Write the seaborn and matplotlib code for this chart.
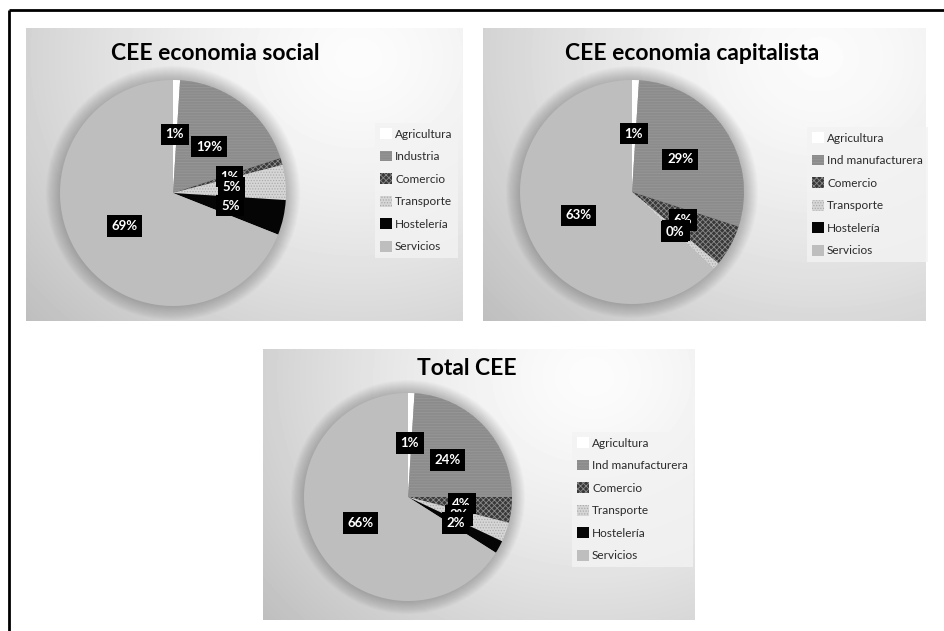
import numpy as np
import matplotlib
matplotlib.use("Agg")
import matplotlib.pyplot as plt
from matplotlib.patches import Patch, Circle
import seaborn as sns

# Sector shares (%) of special employment centres
sectors_social = ["Agricultura", "Industria", "Comercio", "Transporte", "Hostelería", "Servicios"]
sectors_other = ["Agricultura", "Ind manufacturera", "Comercio", "Transporte", "Hostelería", "Servicios"]
social_values = [1, 19, 1, 5, 5, 69]
capitalista_values = [1, 29, 6, 1, 0, 63]
total_values = [1, 24, 4, 3, 2, 66]
titles = ["CEE economia social", "CEE economia capitalista", "Total CEE"]

sns.set_theme(style="white")
plt.rcParams["font.family"] = ["Lato", "DejaVu Sans"]
plt.rcParams["hatch.linewidth"] = 0.6

W, H = 944, 631
fig = plt.figure(figsize=(W / 100, H / 100), dpi=100)
fig.patch.set_facecolor("white")


def frac(x0, y0, x1, y1):
    return [x0 / W, 1 - y1 / H, (x1 - x0) / W, (y1 - y0) / H]


# outer frame (left and top rules)
frame_ax = fig.add_axes([0, 0, 1, 1])
frame_ax.set_xlim(0, W)
frame_ax.set_ylim(H, 0)
frame_ax.axis("off")
frame_ax.plot([8.5, 8.5], [9.5, H], color="black", lw=2, solid_capstyle="butt")
frame_ax.plot([8.5, W], [9.5, 9.5], color="black", lw=2, solid_capstyle="butt")

# grey fills and textures per sector
styles = [
    dict(fc="#ffffff", hatch=None, hc="#ffffff"),
    dict(fc="#8c8c8c", hatch="------", hc="#979797"),
    dict(fc="#383838", hatch="xxxxxx", hc="#8a8a8a"),
    dict(fc="#d6d6d6", hatch="......", hc="#ababab"),
    dict(fc="#050505", hatch=None, hc="#050505"),
    dict(fc="#bebebe", hatch=None, hc="#bebebe"),
]

panels = [
    dict(rect=(26, 28, 463, 321), center=(173, 193), r=113, title=(215, 53),
         legend=(375, 123), values=social_values, labels=sectors_social),
    dict(rect=(483, 28, 926, 321), center=(632, 192), r=112, title=(692, 53),
         legend=(807, 127), values=capitalista_values, labels=sectors_other),
    dict(rect=(263, 349, 695, 620), center=(408, 497), r=104, title=(467, 368),
         legend=(572, 432), values=total_values, labels=sectors_other),
]

for title, p in zip(titles, panels):
    x0, y0, x1, y1 = p["rect"]
    pw, ph = x1 - x0, y1 - y0
    bg = fig.add_axes(frac(x0, y0, x1, y1))
    yy, xx = np.mgrid[0:ph, 0:pw]
    cx, cy = 0.76 * pw, 0.10 * ph
    d = np.hypot(xx - cx, (yy - cy) * 1.15)
    d = d / np.hypot(cx, (ph - cy) * 1.15)
    grad = 252 - 62 * np.clip(d, 0, 1.1) ** 1.4
    bg.imshow(grad, cmap="gray", vmin=0, vmax=255, aspect="auto",
              interpolation="bilinear", extent=(0, pw, ph, 0))
    bg.set_xlim(0, pw)
    bg.set_ylim(ph, 0)
    bg.axis("off")

    bg.text(p["title"][0] - x0, p["title"][1] - y0, title, ha="center", va="center",
            fontsize=16.5, fontweight="bold", color="black")

    # pie
    pcx, pcy = p["center"]
    r = p["r"]
    ext = 1.2
    ax = fig.add_axes(frac(pcx - ext * r, pcy - ext * r, pcx + ext * r, pcy + ext * r))
    ax.set_xlim(-ext, ext)
    ax.set_ylim(-ext, ext)
    ax.set_aspect("equal")
    ax.axis("off")
    # soft shadow round the pie
    for k in range(1, 15):
        ax.add_patch(Circle((0, 0), 1 + 0.009 * k, color="black", alpha=0.014, lw=0, zorder=0))

    wedges, _, autotexts = ax.pie(
        p["values"], startangle=90, counterclock=False,
        colors=[s["fc"] for s in styles], radius=1,
        autopct="%1.0f%%", pctdistance=0.52,
        wedgeprops=dict(linewidth=0),
        textprops=dict(color="white", fontweight="bold", fontsize=9.5),
    )
    for w, s in zip(wedges, styles):
        w.set_edgecolor(s["hc"])
        w.set_linewidth(0)
        if s["hatch"]:
            w.set_hatch(s["hatch"])
        w.set_zorder(2)
    for t in autotexts:
        t.set_bbox(dict(facecolor="black", edgecolor="none", boxstyle="square,pad=0.35"))
        t.set_zorder(5)
    ax.set_xlim(-ext, ext)
    ax.set_ylim(-ext, ext)

    handles = [Patch(facecolor=s["fc"], edgecolor=s["hc"], hatch=s["hatch"], linewidth=0)
               for s in styles]
    lx, ly = p["legend"]
    leg = bg.legend(handles, p["labels"], loc="upper left",
                    bbox_to_anchor=(lx / W, 1 - ly / H), bbox_transform=fig.transFigure,
                    borderaxespad=0, frameon=True, fancybox=False, fontsize=8.5,
                    handlelength=1.0, handleheight=1.0, handletextpad=0.25,
                    labelspacing=0.95, borderpad=0.45)
    leg.get_frame().set_facecolor("#f3f3f3")
    leg.get_frame().set_alpha(0.8)
    leg.get_frame().set_edgecolor("none")
    for txt in leg.get_texts():
        txt.set_color("#2a2a2a")

fig.savefig("out.png", dpi=100, facecolor="white")
